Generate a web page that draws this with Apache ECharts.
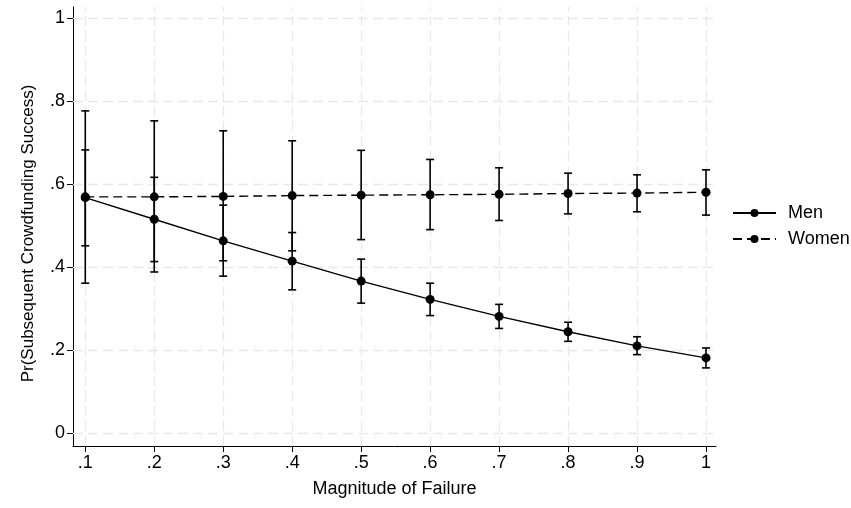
<!DOCTYPE html>
<html>
<head>
<meta charset="utf-8">
<script src="https://cdn.jsdelivr.net/npm/echarts@6/dist/echarts.min.js"></script>
<style>
  html, body { margin: 0; padding: 0; background: #fff; }
  #chart { width: 851px; height: 508px; }
</style>
</head>
<body>
<div id="chart"></div>
<script>
// values
const magnitude = [0.1, 0.2, 0.3, 0.4, 0.5, 0.6, 0.7, 0.8, 0.9, 1]
const menMean = [0.568, 0.516, 0.464, 0.415, 0.367, 0.323, 0.282, 0.245, 0.211, 0.182]
const menLow = [0.452, 0.414, 0.379, 0.346, 0.314, 0.284, 0.253, 0.222, 0.190, 0.158]
const menHigh = [0.683, 0.617, 0.550, 0.484, 0.420, 0.362, 0.311, 0.268, 0.233, 0.206]
const womenMean = [0.570, 0.570, 0.571, 0.573, 0.574, 0.575, 0.576, 0.578, 0.579, 0.581]
const womenLow = [0.362, 0.389, 0.416, 0.440, 0.467, 0.491, 0.513, 0.529, 0.534, 0.526]
const womenHigh = [0.777, 0.753, 0.729, 0.705, 0.682, 0.660, 0.640, 0.627, 0.623, 0.635]
const xTicks = [0.1, 0.2, 0.3, 0.4, 0.5, 0.6, 0.7, 0.8, 0.9, 1]
const yTicks = [0, 0.2, 0.4, 0.6, 0.8, 1]

const font = 'Liberation Sans, Arial, sans-serif'
const fmt = v => String(v).replace(/^0\./, '.')

const pairs = (xs, ys) => xs.map((x, i) => [x, ys[i]])
const bars = (lo, hi) => magnitude.map((x, i) => [x, lo[i], hi[i]])

// error bar with caps, drawn through the axes
function errorBar (params, api) {
  const x = api.value(0)
  const bot = api.coord([x, api.value(1)])
  const top = api.coord([x, api.value(2)])
  const w = 4
  const style = { stroke: '#000', lineWidth: 1.6, fill: null }
  return {
    type: 'group',
    children: [
      { type: 'line', shape: { x1: top[0], y1: top[1], x2: bot[0], y2: bot[1] }, style },
      { type: 'line', shape: { x1: top[0] - w, y1: top[1], x2: top[0] + w, y2: top[1] }, style },
      { type: 'line', shape: { x1: bot[0] - w, y1: bot[1], x2: bot[0] + w, y2: bot[1] }, style }
    ]
  }
}

const myChart = echarts.init(document.getElementById('chart'))
myChart.setOption({
  animation: false,
  textStyle: { fontFamily: font },
  grid: { left: 73, right: 135, top: 7, bottom: 62 },
  legend: {
    data: ['Men', 'Women'],
    orient: 'vertical',
    left: 727,
    top: 199,
    itemWidth: 43,
    itemHeight: 10,
    itemGap: 8,
    textStyle: { fontSize: 18, lineHeight: 18, color: '#000', fontFamily: font, padding: [0, 0, 0, 7] }
  },
  xAxis: {
    type: 'value',
    min: 0.0822,
    max: 1.0145,
    name: 'Magnitude of Failure',
    nameLocation: 'middle',
    nameGap: 34,
    nameTextStyle: { fontSize: 18, color: '#000', fontFamily: font },
    axisLine: { onZero: false, lineStyle: { color: '#000', width: 1 } },
    axisTick: { customValues: xTicks, length: 6, lineStyle: { color: '#000' } },
    axisLabel: { customValues: xTicks, formatter: fmt, fontSize: 18, color: '#000', margin: 8 },
    splitLine: { show: false }
  },
  yAxis: {
    type: 'value',
    min: -0.0301,
    max: 1.0272,
    name: 'Pr(Subsequent Crowdfunding Success)',
    nameLocation: 'middle',
    nameGap: 36,
    nameTextStyle: { fontSize: 17, color: '#000', fontFamily: font, padding: [0, 14, 0, 0] },
    axisLine: { show: true, onZero: false, lineStyle: { color: '#000', width: 1 } },
    axisTick: { show: true, customValues: yTicks, length: 6, lineStyle: { color: '#000' } },
    axisLabel: { customValues: yTicks, formatter: fmt, fontSize: 18, color: '#000', margin: 8 },
    splitLine: { show: false }
  },
  series: [
    {
      // dashed grid lines at the tick values
      name: 'grid',
      type: 'line',
      data: [],
      silent: true,
      z: 1,
      markLine: {
        z: 1,
        silent: true,
        symbol: ['none', 'none'],
        label: { show: false },
        lineStyle: { color: '#e8e8e8', width: 1.3, type: [10, 5] },
        data: xTicks.map(v => ({ xAxis: v })).concat(yTicks.map(v => ({ yAxis: v })))
      }
    },
    {
      name: 'Men',
      type: 'line',
      data: pairs(magnitude, menMean),
      symbol: 'circle',
      symbolSize: 9,
      z: 3,
      itemStyle: { color: '#000' },
      lineStyle: { color: '#000', width: 1.4, type: 'solid' }
    },
    {
      name: 'Women',
      type: 'line',
      data: pairs(magnitude, womenMean),
      symbol: 'circle',
      symbolSize: 9,
      z: 3,
      itemStyle: { color: '#000' },
      lineStyle: { color: '#000', width: 1.4, type: [9, 5] }
    },
    {
      name: 'Men CI',
      type: 'custom',
      renderItem: errorBar,
      encode: { x: 0, y: [1, 2] },
      data: bars(menLow, menHigh),
      z: 4
    },
    {
      name: 'Women CI',
      type: 'custom',
      renderItem: errorBar,
      encode: { x: 0, y: [1, 2] },
      data: bars(womenLow, womenHigh),
      z: 4
    }
  ]
})
</script>
</body>
</html>
